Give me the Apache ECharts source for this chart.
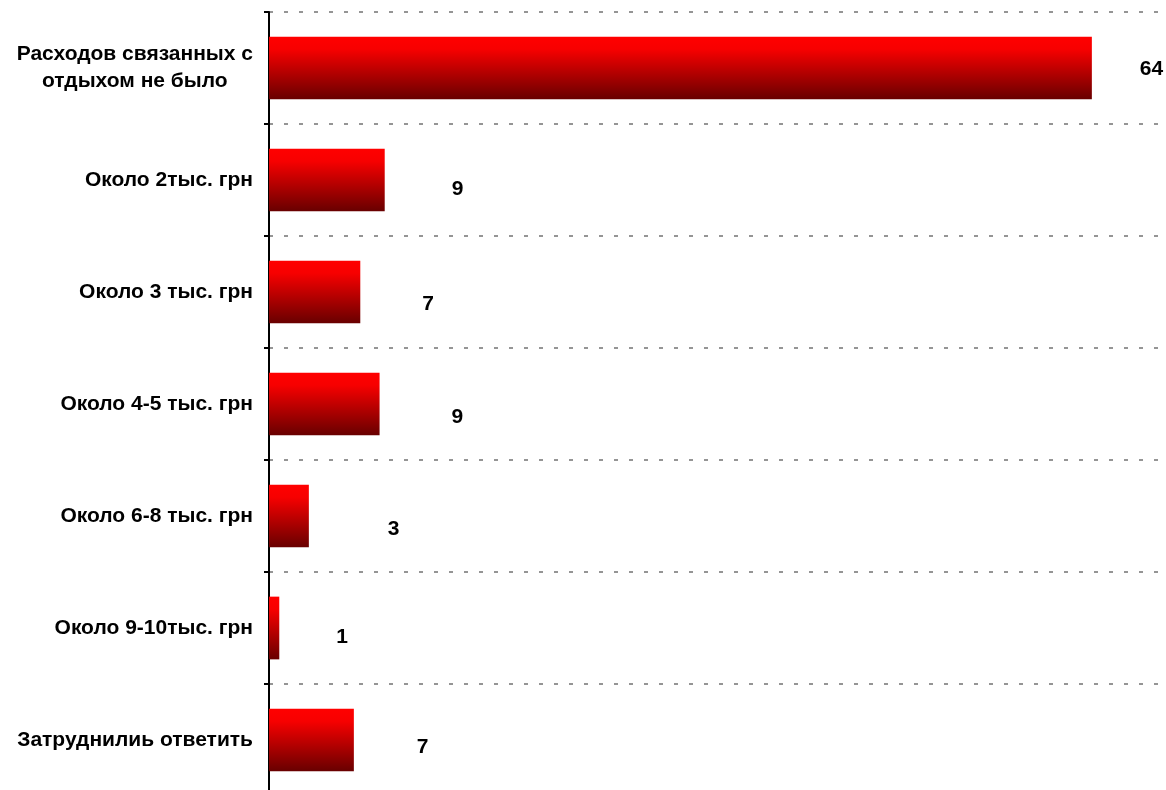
<!DOCTYPE html>
<html>
<head>
<meta charset="utf-8">
<script src="https://cdn.jsdelivr.net/npm/echarts@6/dist/echarts.min.js"></script>
<style>
html,body{margin:0;padding:0;background:#fff;overflow:hidden;width:1166px;height:790px;}
#chart{width:1200px;height:800px;}
</style>
</head>
<body>
<div id="chart"></div>
<script>
var categories = [
  'Расходов связанных с\nотдыхом не было',
  'Около 2тыс. грн',
  'Около 3 тыс. грн',
  'Около 4-5 тыс. грн',
  'Около 6-8 тыс. грн',
  'Около 9-10тыс. грн',
  'Затруднилиь ответить'
];
var values = [64, 9, 7.1, 8.6, 3.1, 0.8, 6.6];

var chart = echarts.init(document.getElementById('chart'));
var font = '"Liberation Sans", Arial, sans-serif';
// manual label placement as in the original (offset from bar end)
var labelNudge = [[48, 1], [67, 9.5], [62, 12.5], [72, 13], [79, 13], [57, 9], [63, 7.5]];
var seriesData = values.map(function (v, i) {
  return { value: v, label: { offset: labelNudge[i] } };
});
chart.setOption({
  backgroundColor: '#ffffff',
  animation: false,
  grid: { left: 269, top: 12, width: 900, height: 784 },
  xAxis: {
    type: 'value', min: 0, max: 70, show: false
  },
  yAxis: {
    type: 'category',
    data: categories,
    inverse: true,
    axisLine: { show: true, lineStyle: { color: '#000', width: 2 } },
    axisTick: { show: true, length: 5, lineStyle: { color: '#000', width: 2 } },
    axisLabel: {
      margin: 16,
      color: '#000',
      fontFamily: font,
      fontWeight: 'bold',
      fontSize: 21,
      lineHeight: 27,
      formatter: function (v) {
        return v.split('\n').map(function (l) { return '{c|' + l + '}'; }).join('\n');
      },
      rich: {
        c: { align: 'center', fontFamily: font, fontWeight: 'bold', fontSize: 21, lineHeight: 27, color: '#000' }
      }
    },
    splitLine: {
      show: true,
      lineStyle: { color: '#959595', width: 2, type: [4, 11] }
    }
  },
  series: [{
    type: 'bar',
    data: seriesData,
    barCategoryGap: '44%',
    itemStyle: {
      color: new echarts.graphic.LinearGradient(0, 0, 0, 1, [
        { offset: 0, color: '#ff0000' },
        { offset: 0.2, color: '#f70000' },
        { offset: 1, color: '#680000' }
      ])
    },
    label: {
      show: true,
      position: 'right',
      distance: 0,
      color: '#000',
      fontFamily: font,
      fontWeight: 'bold',
      fontSize: 21,
      formatter: function (p) { return Math.round(p.value); }
    }
  }]
});
</script>
</body>
</html>
